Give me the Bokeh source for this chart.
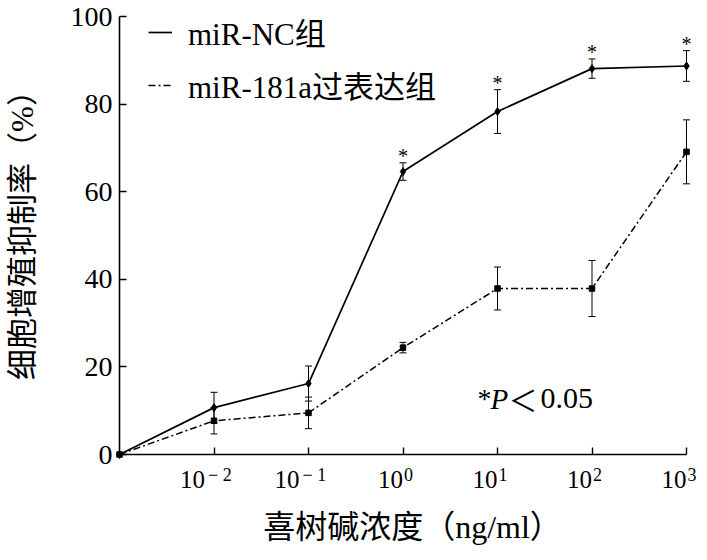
import math
from bokeh.plotting import figure
from bokeh.models import (ColumnDataSource, Whisker, TeeHead, FixedTicker,
                          Legend, LegendItem, Range1d)
from bokeh.core.properties import value
from bokeh.embed import file_html
from bokeh.resources import INLINE

# ---------------- data ----------------
positions = [0, 1, 2, 3, 4, 5, 6]
tick_base = "10"
tick_exps = ["\u2212 2", "\u2212 1", "0", "1", "2", "3"]
nc_vals = [0, 10.7, 16.2, 64.6, 78.3, 88.1, 88.7]
nc_err = [0, 3.5, 4.0, 2.0, 5.0, 2.2, 3.5]
oe_vals = [0, 7.7, 9.5, 24.4, 37.9, 37.9, 69.1]
oe_err = [0, 3.0, 3.6, 1.2, 4.9, 6.4, 7.3]
significant = [False, False, False, True, True, True, True]
y_ticks = [0, 20, 40, 60, 80, 100]
series_names = ["miR-NC组", "miR-181a过表达组"]
x_title = "喜树碱浓度（ng/ml）"
y_title = "细胞增殖抑制率（%）"
p_text = ["*", "P", "＜", "0.05"]

SERIF = "Liberation Serif, Noto Sans CJK SC"

# ---------------- layout ----------------
W, H = 707, 560
BL, BR, BT, BB = 2, 0, 0, 15
X0_PAGE, X6_PAGE = 119, 686          # page x of positions 0 and 6
Y0_PAGE, Y100_PAGE = 454, 16         # page y of values 0 and 100
XU = (X6_PAGE - X0_PAGE) / 6.0
YU = (Y0_PAGE - Y100_PAGE) / 100.0

def px_x(page_x):
    return (page_x - X0_PAGE) / XU

def px_y(page_y):
    return (Y0_PAGE - page_y) / YU

x_start, x_end = px_x(BL), px_x(W - BR)
y_start, y_end = px_y(H - BB), px_y(BT)

p = figure(width=W, height=H, output_backend="svg", toolbar_location=None,
           x_range=Range1d(x_start, x_end), y_range=Range1d(y_start, y_end),
           min_border_left=BL, min_border_right=BR, min_border_top=BT,
           min_border_bottom=BB)
p.outline_line_color = None
p.xgrid.visible = False
p.ygrid.visible = False
p.background_fill_color = "white"
p.border_fill_color = "white"

# axes (placed at the origin, inside the frame)
ya = p.yaxis[0]
ya.fixed_location = 0
ya.bounds = (0, 100)
ya.ticker = FixedTicker(ticks=y_ticks)
ya.major_tick_in = 7
ya.major_tick_out = 0
ya.minor_tick_line_color = None
ya.axis_line_width = 1.6
ya.major_tick_line_width = 1.4
ya.major_label_text_font = SERIF
ya.major_label_text_font_size = "28px"
ya.major_label_text_color = "black"
ya.major_label_standoff = 7

xa = p.xaxis[0]
xa.fixed_location = 0
xa.bounds = (0, 6)
xa.ticker = FixedTicker(ticks=positions[1:])
xa.major_tick_in = 7
xa.major_tick_out = 0
xa.minor_tick_line_color = None
xa.axis_line_width = 1.6
xa.major_tick_line_width = 1.4
xa.major_label_overrides = {pos: "" for pos in positions[1:]}

# x tick labels 10^n
base_x, base_off, sup_off = [], [], []
for pos, ex in zip(positions[1:], tick_exps):
    neg = ex.startswith("\u2212")
    off = -9 if neg else 0
    base_x.append(pos)
    base_off.append(off)
    sup_off.append(off + (3 if neg else 1))
p.text(x=base_x, y=[px_y(479)] * len(base_x), text=[tick_base] * len(base_x),
       x_offset=base_off, text_align="right", text_baseline="middle",
       text_font=value(SERIF), text_font_size="25px", text_color="black")
p.text(x=base_x, y=[px_y(474)] * len(base_x), text=tick_exps,
       x_offset=sup_off, text_align="left", text_baseline="middle",
       text_font=value(SERIF), text_font_size="18px", text_color="black")

# axis titles
p.text(x=[px_x(412)], y=[px_y(526)], text=[x_title], text_align="center",
       text_baseline="middle", text_font=value(SERIF),
       text_font_size="32px", text_color="black")
p.text(x=[px_x(22)], y=[px_y(227)], text=[y_title], text_align="center",
       text_baseline="middle", angle=math.pi / 2, text_font=value(SERIF),
       text_font_size="31px", text_color="black")

# data
src_nc = ColumnDataSource(dict(x=positions, y=nc_vals,
                               lo=[v - e for v, e in zip(nc_vals, nc_err)],
                               hi=[v + e for v, e in zip(nc_vals, nc_err)]))
src_oe = ColumnDataSource(dict(x=positions, y=oe_vals,
                               lo=[v - e for v, e in zip(oe_vals, oe_err)],
                               hi=[v + e for v, e in zip(oe_vals, oe_err)]))

r_nc = p.line("x", "y", source=src_nc, line_color="black", line_width=1.7)
r_oe = p.line("x", "y", source=src_oe, line_color="black", line_width=1.5,
              line_dash="7 3 2 3")
p.scatter("x", "y", source=src_nc, marker="diamond", size=8, color="black")
p.scatter("x", "y", source=src_oe, marker="square", size=5.5, color="black")

for src in (src_nc, src_oe):
    w = Whisker(source=src, base="x", lower="lo", upper="hi",
                line_color="black", line_width=1,
                upper_head=TeeHead(size=7, line_width=1, line_color="black"),
                lower_head=TeeHead(size=7, line_width=1, line_color="black"))
    p.add_layout(w)

# significance stars
STAR_GAP = 7 / YU
sx = [x for x, s in zip(positions, significant) if s]
sy = [v + e + STAR_GAP for v, e, s in zip(nc_vals, nc_err, significant) if s]
p.text(x=sx, y=sy, text=["*"] * len(sx), text_align="center",
       text_baseline="alphabetic", text_font=value("Liberation Serif"),
       text_font_size="20px", text_color="black")

# P value annotation
y_p = px_y(398)
p.text(x=[px_x(477)], y=[y_p], text=[p_text[0]], text_align="left", text_baseline="middle",
       text_font=value(SERIF), text_font_size="28px", text_color="black")
p.text(x=[px_x(490)], y=[y_p], text=[p_text[1]], text_align="left", text_baseline="middle",
       text_font=value(SERIF), text_font_style="italic", text_font_size="29px",
       text_color="black")
p.text(x=[px_x(508)], y=[y_p], text=[p_text[2]], text_align="left", text_baseline="middle",
       text_font=value("Noto Sans CJK SC"), text_font_size="29px", text_color="black")
p.text(x=[px_x(540)], y=[y_p], text=[p_text[3]], text_align="left", text_baseline="middle",
       text_font=value(SERIF), text_font_size="30px", text_color="black")

# legend
legend = Legend(items=[LegendItem(label=series_names[0], renderers=[r_nc]),
                       LegendItem(label=series_names[1], renderers=[r_oe])],
                location=(148 - BL, 438), orientation="vertical",
                label_text_font=SERIF, label_text_font_size="31px",
                label_text_color="black", glyph_width=24, glyph_height=30,
                label_height=30, label_standoff=16, spacing=8, padding=0,
                margin=0, border_line_color=None, background_fill_alpha=0)
p.add_layout(legend)

open("out.html", "w").write(file_html(p, INLINE))
